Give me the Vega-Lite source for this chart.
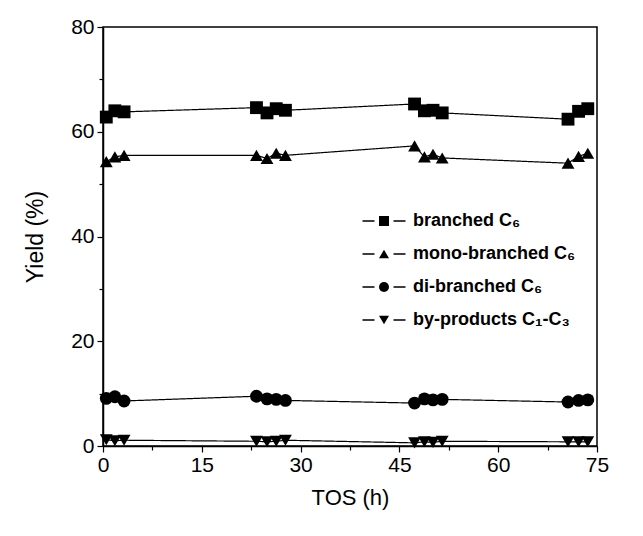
{
  "$schema": "https://vega.github.io/schema/vega-lite/v6.json",
  "autosize": "none",
  "width": 494,
  "height": 419,
  "padding": {"left": 103, "top": 27, "right": 46, "bottom": 90},
  "background": "white",
  "config": {
    "font": "Liberation Sans",
    "view": {"stroke": "black", "strokeWidth": 1.5},
    "axis": {"domainColor": "black", "domainWidth": 1.5, "tickColor": "black", "tickWidth": 1.2, "labelColor": "black", "titleColor": "black", "grid": false, "labelFont": "Liberation Sans", "titleFont": "Liberation Sans", "titleFontWeight": "normal"}
  },
  "data": {"values": [
    {"s": "branched C₆", "t": 0.5, "y": 62.8},
    {"s": "branched C₆", "t": 1.8, "y": 64.0},
    {"s": "branched C₆", "t": 3.2, "y": 63.8},
    {"s": "branched C₆", "t": 23.3, "y": 64.6},
    {"s": "branched C₆", "t": 24.9, "y": 63.6},
    {"s": "branched C₆", "t": 26.3, "y": 64.4},
    {"s": "branched C₆", "t": 27.7, "y": 64.1},
    {"s": "branched C₆", "t": 47.3, "y": 65.3},
    {"s": "branched C₆", "t": 48.8, "y": 64.0},
    {"s": "branched C₆", "t": 50.1, "y": 64.1},
    {"s": "branched C₆", "t": 51.5, "y": 63.6},
    {"s": "branched C₆", "t": 70.6, "y": 62.4},
    {"s": "branched C₆", "t": 72.2, "y": 63.9},
    {"s": "branched C₆", "t": 73.6, "y": 64.4},
    {"s": "mono-branched C₆", "t": 0.5, "y": 54.3},
    {"s": "mono-branched C₆", "t": 1.8, "y": 55.2},
    {"s": "mono-branched C₆", "t": 3.2, "y": 55.5},
    {"s": "mono-branched C₆", "t": 23.3, "y": 55.5},
    {"s": "mono-branched C₆", "t": 24.9, "y": 54.9},
    {"s": "mono-branched C₆", "t": 26.3, "y": 55.9},
    {"s": "mono-branched C₆", "t": 27.7, "y": 55.5},
    {"s": "mono-branched C₆", "t": 47.3, "y": 57.3},
    {"s": "mono-branched C₆", "t": 48.8, "y": 55.2},
    {"s": "mono-branched C₆", "t": 50.1, "y": 55.7},
    {"s": "mono-branched C₆", "t": 51.5, "y": 55.0},
    {"s": "mono-branched C₆", "t": 70.6, "y": 54.0},
    {"s": "mono-branched C₆", "t": 72.2, "y": 55.3},
    {"s": "mono-branched C₆", "t": 73.6, "y": 55.9},
    {"s": "di-branched C₆", "t": 0.5, "y": 9.1},
    {"s": "di-branched C₆", "t": 1.8, "y": 9.4},
    {"s": "di-branched C₆", "t": 3.2, "y": 8.6},
    {"s": "di-branched C₆", "t": 23.3, "y": 9.5},
    {"s": "di-branched C₆", "t": 24.9, "y": 9.0},
    {"s": "di-branched C₆", "t": 26.3, "y": 8.9},
    {"s": "di-branched C₆", "t": 27.7, "y": 8.7},
    {"s": "di-branched C₆", "t": 47.3, "y": 8.2},
    {"s": "di-branched C₆", "t": 48.8, "y": 9.0},
    {"s": "di-branched C₆", "t": 50.1, "y": 8.8},
    {"s": "di-branched C₆", "t": 51.5, "y": 8.9},
    {"s": "di-branched C₆", "t": 70.6, "y": 8.4},
    {"s": "di-branched C₆", "t": 72.2, "y": 8.7},
    {"s": "di-branched C₆", "t": 73.6, "y": 8.8},
    {"s": "by-products C₁-C₃", "t": 0.5, "y": 1.2},
    {"s": "by-products C₁-C₃", "t": 1.8, "y": 1.0},
    {"s": "by-products C₁-C₃", "t": 3.2, "y": 1.1},
    {"s": "by-products C₁-C₃", "t": 23.3, "y": 0.9},
    {"s": "by-products C₁-C₃", "t": 24.9, "y": 0.8},
    {"s": "by-products C₁-C₃", "t": 26.3, "y": 0.9},
    {"s": "by-products C₁-C₃", "t": 27.7, "y": 1.1},
    {"s": "by-products C₁-C₃", "t": 47.3, "y": 0.6},
    {"s": "by-products C₁-C₃", "t": 48.8, "y": 0.8},
    {"s": "by-products C₁-C₃", "t": 50.1, "y": 0.7},
    {"s": "by-products C₁-C₃", "t": 51.5, "y": 0.9},
    {"s": "by-products C₁-C₃", "t": 70.6, "y": 0.8},
    {"s": "by-products C₁-C₃", "t": 72.2, "y": 0.8},
    {"s": "by-products C₁-C₃", "t": 73.6, "y": 0.8}
  ]},
  "encoding": {
    "x": {"field": "t", "type": "quantitative",
      "scale": {"domain": [0, 75], "nice": false, "zero": false},
      "axis": {"title": "TOS (h)", "values": [0, 7.5, 15, 22.5, 30, 37.5, 45, 52.5, 60, 67.5, 75],
        "labelExpr": "datum.value % 15 === 0 ? datum.label : ''",
        "tickSize": {"condition": {"test": "datum.value % 15 === 0", "value": 6}, "value": 4},
        "labelFontSize": 21, "labelPadding": 2, "titleFontSize": 22, "titlePadding": 12, "labelFlush": false}},
    "y": {"field": "y", "type": "quantitative",
      "scale": {"domain": [0, 80], "nice": false},
      "axis": {"title": "Yield (%)", "values": [0, 10, 20, 30, 40, 50, 60, 70, 80],
        "labelExpr": "datum.value % 20 === 0 ? datum.label : ''",
        "tickSize": {"condition": {"test": "datum.value % 20 === 0", "value": 6}, "value": 4},
        "labelFontSize": 21, "labelPadding": 3, "titleFontSize": 23, "titlePadding": 23, "labelFlush": false}}
  },
  "layer": [
    {
      "mark": {"type": "line", "color": "black", "strokeWidth": 1.2},
      "encoding": {
        "detail": {"field": "s", "type": "nominal"},
        "strokeDash": {"field": "s", "type": "nominal",
          "scale": {"domain": ["by-products C₁-C₃", "di-branched C₆", "mono-branched C₆", "branched C₆"],
                    "range": [[1, 0], [1, 0], [1, 0], [1, 0]]},
          "legend": {
            "title": null, "orient": "none", "legendX": 272, "legendY": 185,
            "symbolType": "M-4.3,0H-1.9M1.9,0H4.3", "symbolSize": 100,
            "symbolStrokeColor": "black", "symbolStrokeWidth": 1.3,
            "labelFontSize": 18, "labelFontWeight": "bold", "labelFont": "Liberation Sans",
            "labelExpr": "' '", "labelOffset": 20, "rowPadding": 15, "labelLimit": 0
          }}
      }
    },
    {
      "mark": {"type": "point", "filled": true, "opacity": 1, "color": "black", "size": 165},
      "encoding": {
        "shape": {"field": "s", "type": "nominal",
          "scale": {"domain": ["branched C₆", "mono-branched C₆", "di-branched C₆", "by-products C₁-C₃"],
                    "range": ["square", "triangle-up", "circle", "triangle-down"]},
          "legend": {
            "title": null, "orient": "none", "legendX": 272, "legendY": 185,
            "symbolSize": 100, "labelFontSize": 18, "labelFontWeight": "bold", "labelFont": "Liberation Sans",
            "labelColor": "black", "labelOffset": 20, "rowPadding": 15, "labelLimit": 0
          }}
      }
    }
  ]
}
